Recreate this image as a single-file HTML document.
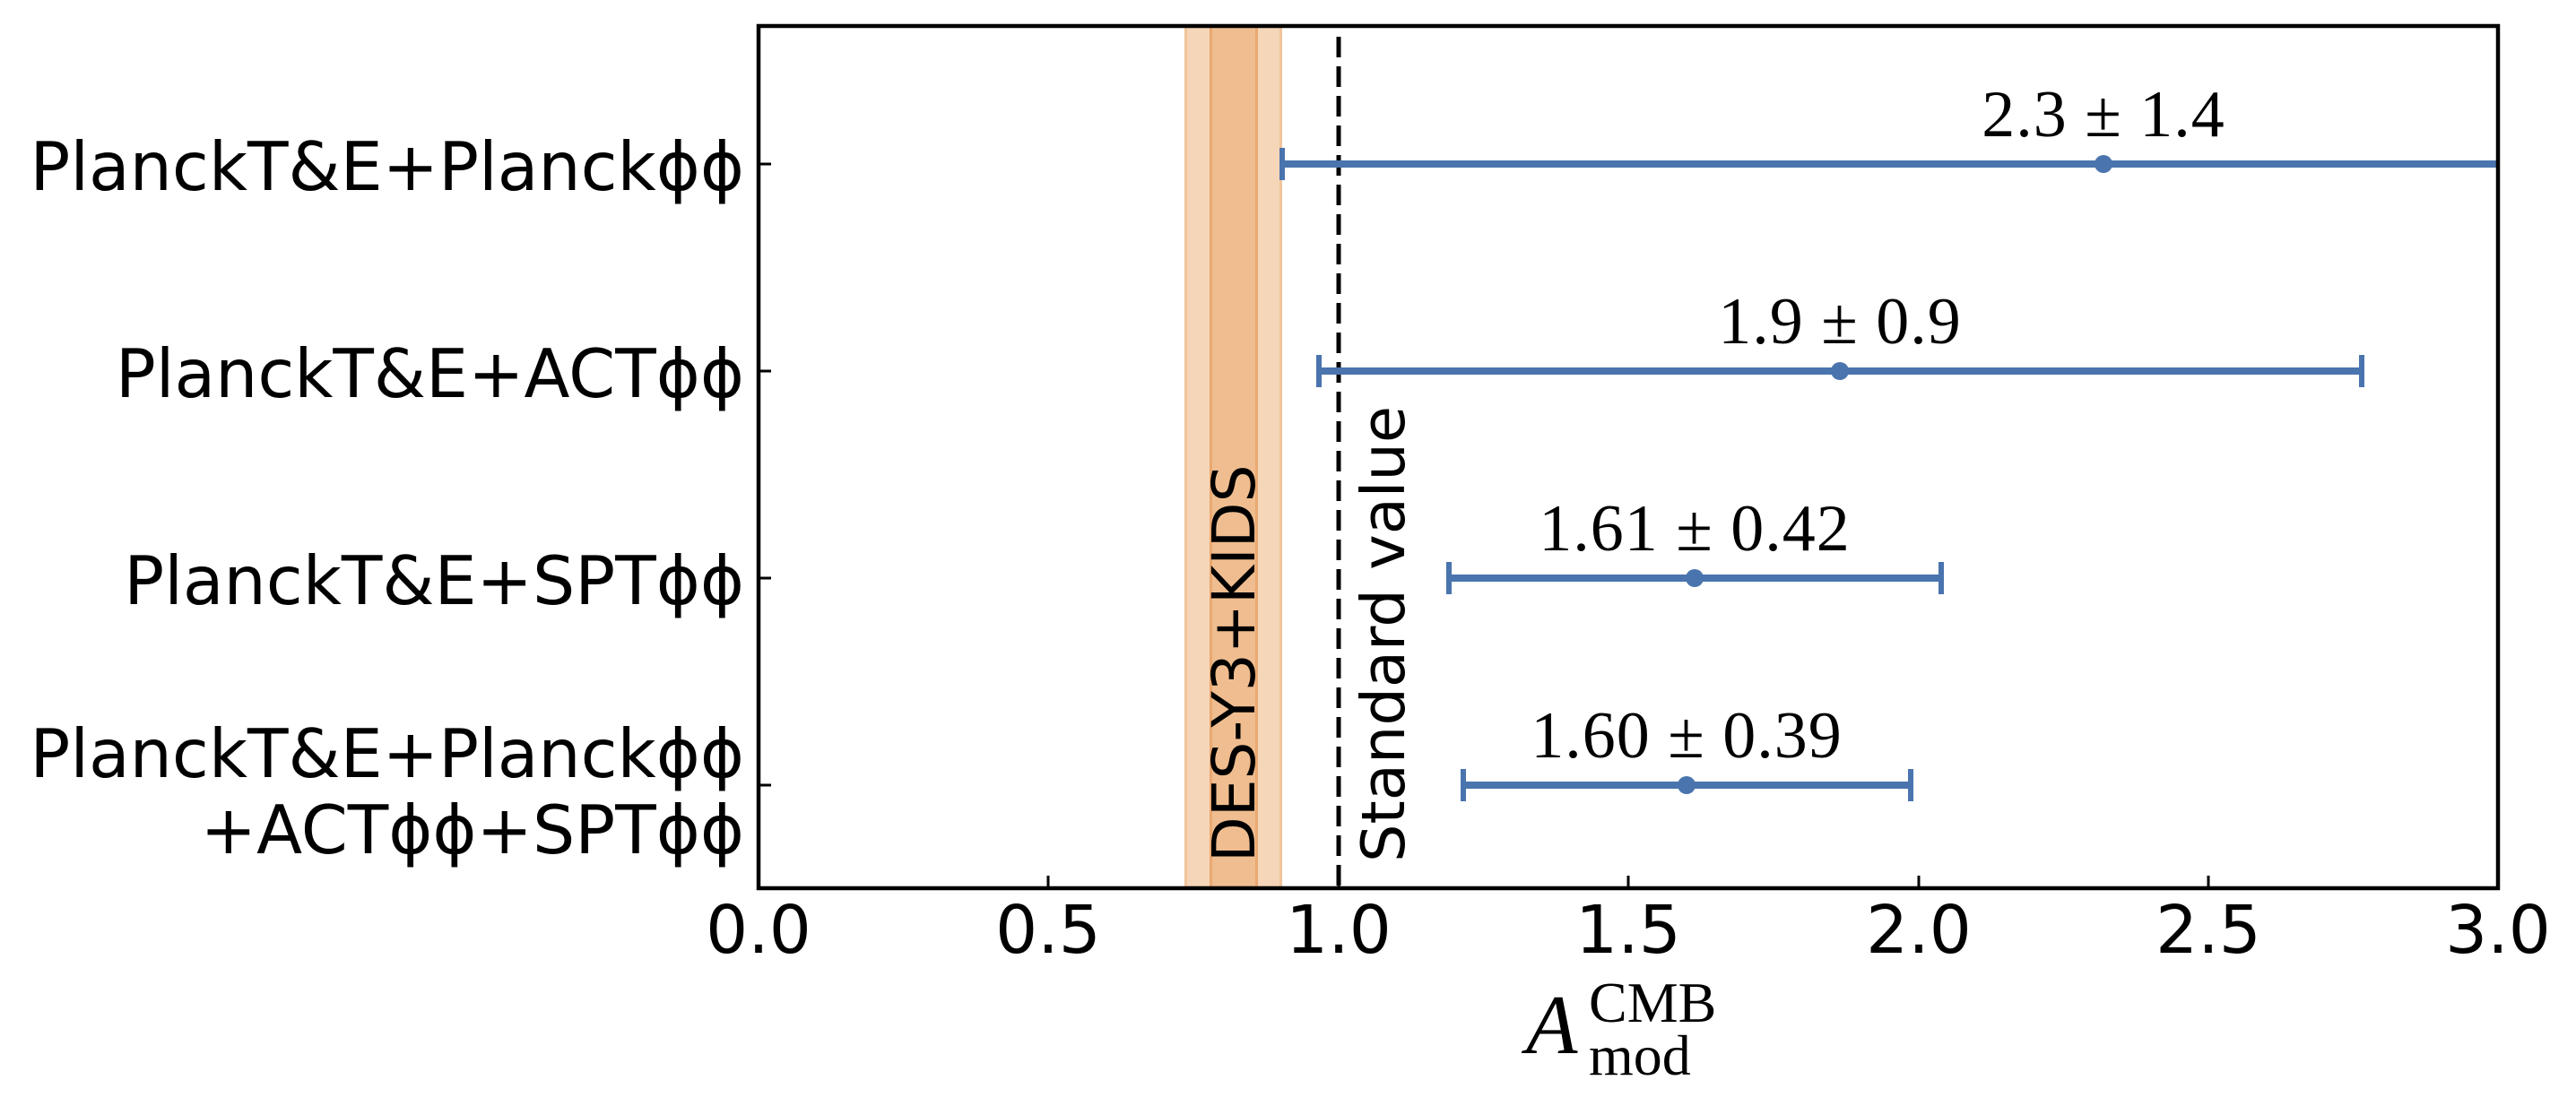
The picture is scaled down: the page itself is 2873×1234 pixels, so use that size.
<!DOCTYPE html>
<html><head><meta charset="utf-8"><style>html,body{margin:0;padding:0;background:#fff}svg{display:block}</style></head>
<body>
<svg width="2873" height="1234" viewBox="0 0 2873 1234" xmlns="http://www.w3.org/2000/svg">
<rect width="2873" height="1234" fill="#fff"/>
<rect x="1321" y="29" width="109" height="962" fill="#f5d6b8"/>
<rect x="1321" y="29" width="3" height="962" fill="#f0c49a"/>
<rect x="1427" y="29" width="3" height="962" fill="#f0c49a"/>
<rect x="1349" y="29" width="54" height="962" fill="#efbd8f"/>
<rect x="1349" y="29" width="3" height="962" fill="#eaa870"/>
<rect x="1400" y="29" width="3" height="962" fill="#eaa870"/>
<line x1="1493" y1="29" x2="1493" y2="991" stroke="#000" stroke-width="5" stroke-dasharray="23,10" stroke-dashoffset="-12"/>
<text transform="translate(1399,962) rotate(-90)" font-family="DejaVu Sans, sans-serif" font-size="66" fill="#000">DES-Y3+KIDS</text>
<text transform="translate(1566,962) rotate(-90)" font-family="DejaVu Sans, sans-serif" font-size="67" fill="#000">Standard value</text>
<g stroke="#4a74ae" stroke-width="8" fill="#4a74ae">
<line x1="1430" y1="183" x2="2786" y2="183"/>
<line x1="1430" y1="165" x2="1430" y2="201" stroke-width="6"/>
<circle cx="2346" cy="183" r="10" stroke="none"/>
<line x1="1471" y1="414" x2="2634" y2="414"/>
<line x1="1471" y1="396" x2="1471" y2="432" stroke-width="6"/>
<line x1="2634" y1="396" x2="2634" y2="432" stroke-width="6"/>
<circle cx="2052" cy="414" r="10" stroke="none"/>
<line x1="1616" y1="645" x2="2165" y2="645"/>
<line x1="1616" y1="627" x2="1616" y2="663" stroke-width="6"/>
<line x1="2165" y1="627" x2="2165" y2="663" stroke-width="6"/>
<circle cx="1890" cy="645" r="10" stroke="none"/>
<line x1="1632" y1="876" x2="2131" y2="876"/>
<line x1="1632" y1="858" x2="1632" y2="894" stroke-width="6"/>
<line x1="2131" y1="858" x2="2131" y2="894" stroke-width="6"/>
<circle cx="1881" cy="876" r="10" stroke="none"/>
</g>
<g font-family="Liberation Serif, serif" font-size="74" text-anchor="middle" fill="#000" letter-spacing="1">
<text x="2346" y="152">2.3 ± 1.4</text>
<text x="2052" y="383">1.9 ± 0.9</text>
<text x="1890" y="614">1.61 ± 0.42</text>
<text x="1881" y="845">1.60 ± 0.39</text>
</g>
<rect x="846" y="29" width="1940" height="962" fill="none" stroke="#000" stroke-width="4.5"/>
<g stroke="#000" stroke-width="3">
<line x1="1169" y1="991" x2="1169" y2="977"/>
<line x1="1493" y1="991" x2="1493" y2="977"/>
<line x1="1816" y1="991" x2="1816" y2="977"/>
<line x1="2140" y1="991" x2="2140" y2="977"/>
<line x1="2463" y1="991" x2="2463" y2="977"/>
<line x1="846" y1="183" x2="860" y2="183"/>
<line x1="846" y1="414" x2="860" y2="414"/>
<line x1="846" y1="645" x2="860" y2="645"/>
<line x1="846" y1="876" x2="860" y2="876"/>
</g>
<g font-family="DejaVu Sans, sans-serif" font-size="74" text-anchor="middle" fill="#000">
<text x="846" y="1063">0.0</text>
<text x="1169" y="1063">0.5</text>
<text x="1493" y="1063">1.0</text>
<text x="1816" y="1063">1.5</text>
<text x="2140" y="1063">2.0</text>
<text x="2463" y="1063">2.5</text>
<text x="2786" y="1063">3.0</text>
</g>
<g font-family="DejaVu Sans, sans-serif" font-size="74.5" text-anchor="end" fill="#000">
<text x="830" y="212">PlanckT&amp;E+Planckϕϕ</text>
<text x="830" y="443">PlanckT&amp;E+ACTϕϕ</text>
<text x="830" y="674">PlanckT&amp;E+SPTϕϕ</text>
<text x="830" y="867">PlanckT&amp;E+Planckϕϕ</text>
<text x="830" y="952">+ACTϕϕ+SPTϕϕ</text>
</g>
<text x="1702" y="1175" font-family="Liberation Serif, serif" font-style="italic" font-size="94">A</text>
<text x="1772" y="1140" font-family="Liberation Serif, serif" font-size="64">CMB</text>
<text x="1772" y="1199" font-family="Liberation Serif, serif" font-size="64">mod</text>
</svg>
</body></html>
